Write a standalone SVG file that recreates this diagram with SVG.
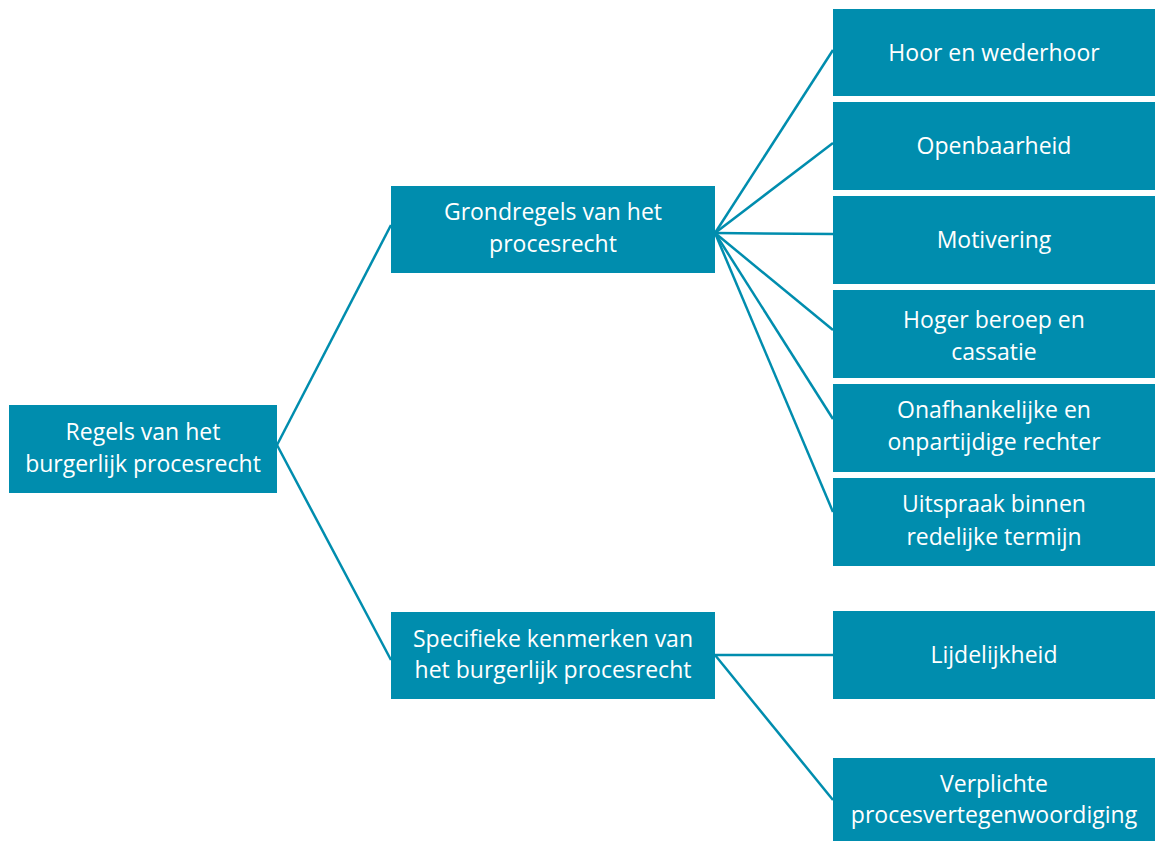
<svg xmlns="http://www.w3.org/2000/svg" width="1155" height="841" viewBox="0 0 1155 841">
<style>
.box{fill:#008dae}
.t{font-family:"Open Sans","Noto Sans","Liberation Sans",sans-serif;font-size:23px;fill:#ffffff;text-anchor:middle}
.c{stroke:#008dae;stroke-width:2.5;fill:none}
</style>
<rect width="1155" height="841" fill="#ffffff"/>
<g id="connectors">
<line class="c" x1="277" y1="445" x2="391" y2="225"/>
<line class="c" x1="277" y1="445" x2="391" y2="660"/>
<line class="c" x1="715" y1="233" x2="833" y2="50"/>
<line class="c" x1="715" y1="233" x2="833" y2="143"/>
<line class="c" x1="715" y1="233" x2="833" y2="234"/>
<line class="c" x1="715" y1="233" x2="833" y2="330"/>
<line class="c" x1="715" y1="233" x2="833" y2="419"/>
<line class="c" x1="715" y1="233" x2="833" y2="512"/>
<line class="c" x1="715" y1="655" x2="833" y2="655"/>
<line class="c" x1="715" y1="655" x2="833" y2="800"/>
</g>
<g id="root">
<rect class="box" x="9" y="405" width="268" height="88"/>
<text class="t" x="143" y="440">Regels van het</text>
<text class="t" x="143" y="472">burgerlijk procesrecht</text>
</g>
<g id="grondregels">
<rect class="box" x="391" y="186" width="324" height="87"/>
<text class="t" x="553" y="220">Grondregels van het</text>
<text class="t" x="553" y="252">procesrecht</text>
</g>
<g id="specifieke">
<rect class="box" x="391" y="612" width="324" height="87"/>
<text class="t" x="553" y="647">Specifieke kenmerken van</text>
<text class="t" x="553" y="678">het burgerlijk procesrecht</text>
</g>
<g id="hoor">
<rect class="box" x="833" y="9" width="322" height="87"/>
<text class="t" x="994" y="61">Hoor en wederhoor</text>
</g>
<g id="openbaarheid">
<rect class="box" x="833" y="102" width="322" height="88"/>
<text class="t" x="994" y="154">Openbaarheid</text>
</g>
<g id="motivering">
<rect class="box" x="833" y="196" width="322" height="88"/>
<text class="t" x="994" y="248">Motivering</text>
</g>
<g id="hoger">
<rect class="box" x="833" y="290" width="322" height="88"/>
<text class="t" x="994" y="328">Hoger beroep en</text>
<text class="t" x="994" y="360">cassatie</text>
</g>
<g id="onafhankelijk">
<rect class="box" x="833" y="384" width="322" height="88"/>
<text class="t" x="994" y="418">Onafhankelijke en</text>
<text class="t" x="994" y="450">onpartijdige rechter</text>
</g>
<g id="uitspraak">
<rect class="box" x="833" y="478" width="322" height="88"/>
<text class="t" x="994" y="512">Uitspraak binnen</text>
<text class="t" x="994" y="545">redelijke termijn</text>
</g>
<g id="lijdelijkheid">
<rect class="box" x="833" y="611" width="322" height="88"/>
<text class="t" x="994" y="663">Lijdelijkheid</text>
</g>
<g id="verplichte">
<rect class="box" x="833" y="758" width="322" height="83"/>
<text class="t" x="994" y="792">Verplichte</text>
<text class="t" x="994" y="823">procesvertegenwoordiging</text>
</g>
</svg>
